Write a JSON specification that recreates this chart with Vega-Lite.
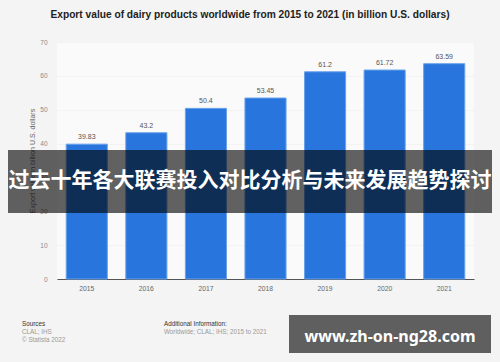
{
  "$schema": "https://vega.github.io/schema/vega-lite/v6.json",
  "autosize": "none",
  "width": 417,
  "height": 237,
  "padding": {"left": 57, "top": 42, "right": 26, "bottom": 83},
  "background": "#f4f4f4",
  "config": {"view": {"stroke": null}, "font": "Liberation Sans"},
  "title": {
    "text": "Export value of dairy products worldwide from 2015 to 2021 (in billion U.S. dollars)",
    "fontSize": 10.2,
    "fontWeight": "bold",
    "font": "Liberation Sans",
    "color": "#222222",
    "anchor": "middle",
    "frame": "bounds",
    "offset": 19
  },
  "data": {
    "values": [
      {"year": "2015", "value": 39.83},
      {"year": "2016", "value": 43.2},
      {"year": "2017", "value": 50.4},
      {"year": "2018", "value": 53.45},
      {"year": "2019", "value": 61.2},
      {"year": "2020", "value": 61.72},
      {"year": "2021", "value": 63.59}
    ]
  },
  "layer": [
    {
      "transform": [{"filter": "toNumber(datum.year) % 2 == 0"}],
      "mark": {"type": "rect", "fill": "white", "opacity": 0.5},
      "encoding": {
        "x": {"field": "year", "type": "ordinal", "scale": {"paddingInner": 0, "paddingOuter": 0}, "axis": null},
        "y": {"value": 0},
        "y2": {"value": "height"}
      }
    },
    {
      "encoding": {
        "x": {
          "field": "year",
          "type": "ordinal",
          "scale": {"paddingInner": 0.31, "paddingOuter": 0.155},
          "axis": {
            "title": null,
            "labelAngle": 0,
            "labelFontSize": 6.75,
            "labelColor": "#666666",
            "labelPadding": 6,
            "ticks": false,
            "domainColor": "#555555",
            "domainWidth": 1
          }
        },
        "y": {
          "field": "value",
          "type": "quantitative",
          "scale": {"domain": [0, 70], "nice": false},
          "axis": {
            "title": "Export value in billion U.S. dollars",
            "titleFontSize": 7,
            "titleColor": "#666666",
            "titleFontWeight": "normal",
            "titlePadding": 4,
            "labelFontSize": 6.5,
            "labelColor": "#8a8a8a",
            "labelPadding": 10,
            "labelOverlap": false,
            "ticks": false,
            "domain": false,
            "gridColor": "#e6e6e6",
            "values": [0, 10, 20, 30, 40, 50, 60, 70]
          }
        }
      },
      "layer": [
        {
          "mark": {"type": "bar", "color": "#2876dd", "stroke": "#6aa2ea", "strokeWidth": 1}
        },
        {
          "mark": {"type": "text", "baseline": "bottom", "dy": -4, "fontSize": 7, "color": "#555555"},
          "encoding": {
            "text": {"field": "value", "type": "quantitative"}
          }
        }
      ]
    },
    {
      "data": {"values": [{}]},
      "mark": {"type": "rect", "x": -49, "x2": 435, "y": 108, "y2": 171, "fill": "black", "opacity": 0.61}
    },
    {
      "data": {"values": [{}]},
      "mark": {"type": "text", "x": 193, "y": 139, "text": "过去十年各大联赛投入对比分析与未来发展趋势探讨", "font": "Noto Sans CJK SC", "fontWeight": "bold", "fontSize": 21, "color": "white", "align": "center", "baseline": "middle"}
    },
    {
      "data": {"values": [{}]},
      "mark": {"type": "rect", "x": 232, "x2": 434, "y": 273, "y2": 311, "fill": "#5f5f5f"}
    },
    {
      "data": {"values": [{}]},
      "mark": {"type": "text", "x": 333, "y": 295, "text": "www.zh-on-ng28.com", "font": "Noto Sans", "fontWeight": "bold", "fontSize": 16, "color": "white", "align": "center", "baseline": "middle"}
    },
    {
      "data": {"values": [{}]},
      "mark": {"type": "text", "x": -35, "y": 282, "text": "Sources", "fontSize": 6.3, "color": "#333333", "align": "left", "baseline": "middle"}
    },
    {
      "data": {"values": [{}]},
      "mark": {"type": "text", "x": -35, "y": 290, "text": "CLAL; IHS", "fontSize": 6.3, "color": "#999999", "align": "left", "baseline": "middle"}
    },
    {
      "data": {"values": [{}]},
      "mark": {"type": "text", "x": -35, "y": 297.5, "text": "© Statista 2022", "fontSize": 6.3, "color": "#999999", "align": "left", "baseline": "middle"}
    },
    {
      "data": {"values": [{}]},
      "mark": {"type": "text", "x": 107, "y": 282, "text": "Additional Information:", "fontSize": 6.3, "color": "#333333", "align": "left", "baseline": "middle"}
    },
    {
      "data": {"values": [{}]},
      "mark": {"type": "text", "x": 107, "y": 290, "text": "Worldwide; CLAL; IHS; 2015 to 2021", "fontSize": 6.3, "color": "#999999", "align": "left", "baseline": "middle"}
    }
  ],
  "resolve": {"scale": {"x": "independent"}}
}
